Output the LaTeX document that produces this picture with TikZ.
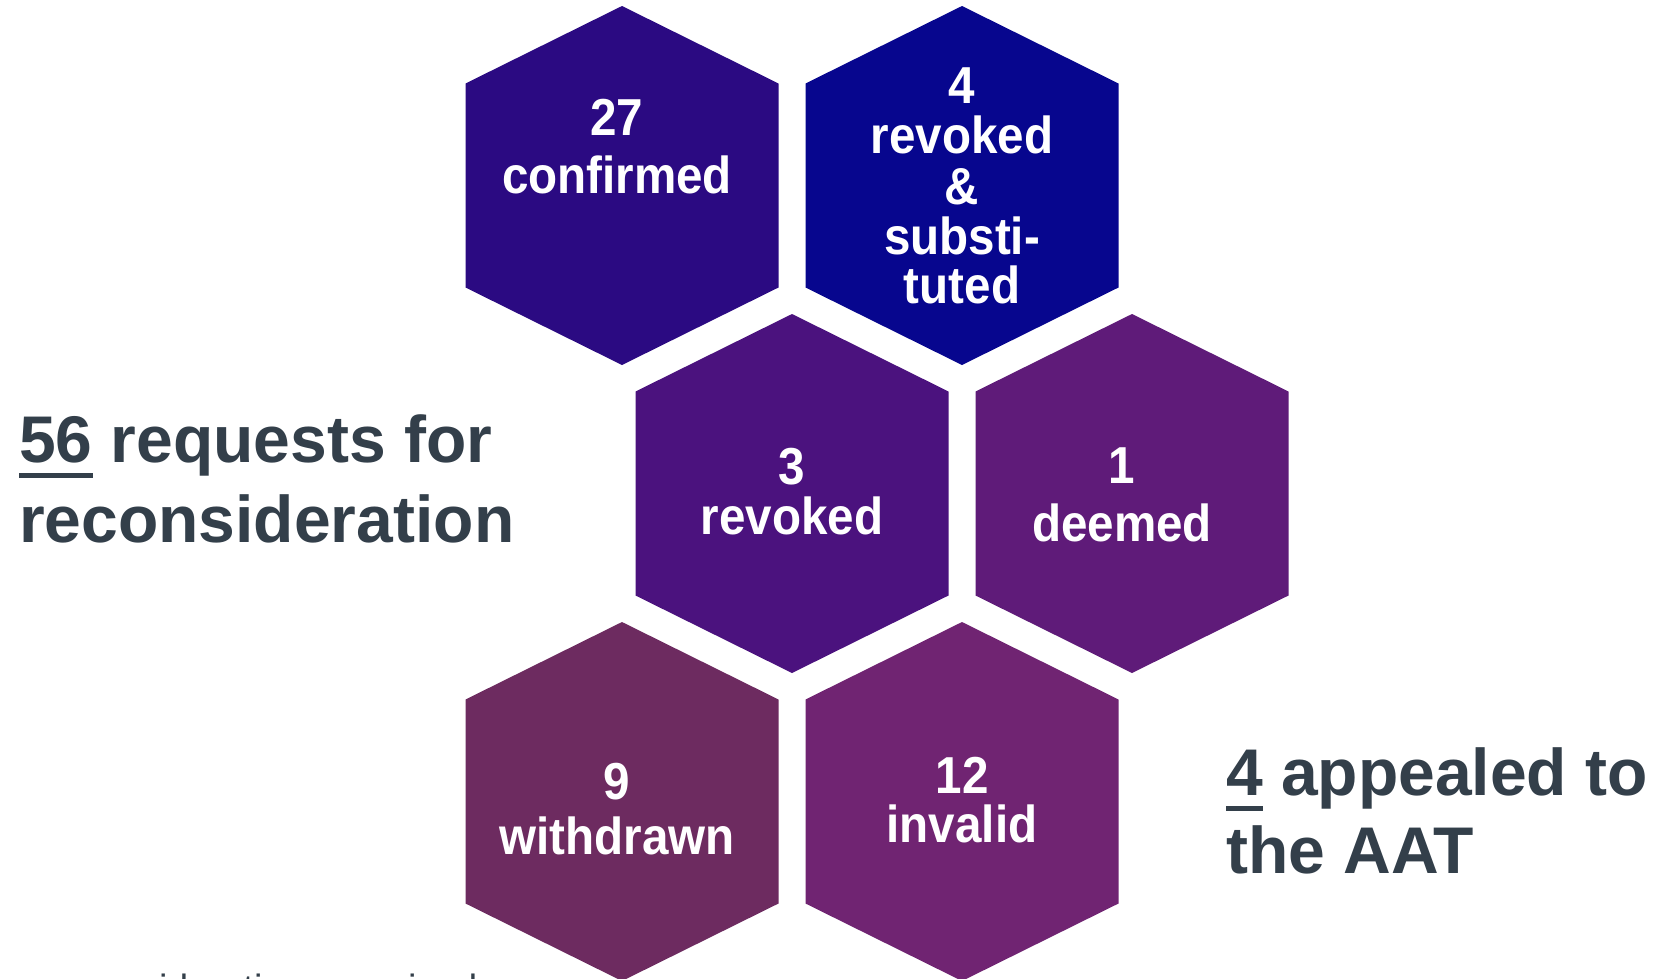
\documentclass[tikz,border=0pt]{standalone}
\usepackage{fontspec}
\setmainfont{Liberation Sans}
\newfontfamily\hexfont{Liberation Sans}[FakeStretch=0.915]
\definecolor{hexA}{HTML}{2B0A82}
\definecolor{hexB}{HTML}{07068E}
\definecolor{hexC}{HTML}{4B127E}
\definecolor{hexD}{HTML}{5F1B79}
\definecolor{hexE}{HTML}{6D2B60}
\definecolor{hexF}{HTML}{702472}
\definecolor{darktxt}{HTML}{333F4A}
\newcommand\thickul[1]{\setbox0\hbox{#1}\rlap{\rule[-16pt]{\wd0}{5pt}}\box0\relax}
\begin{document}
\begin{tikzpicture}[x=1pt,y=-1pt,
  hexlabel/.style={text=white,font=\hexfont\bfseries\fontsize{52}{52}\selectfont,anchor=base,inner sep=0pt},
  bigtext/.style={text=darktxt,font=\bfseries\fontsize{66}{79}\selectfont,anchor=base west,inner sep=0pt},
  foottext/.style={text=darktxt,font=\fontsize{38}{44}\selectfont,anchor=base west,inner sep=0pt},
  hexagon/.pic={\fill (0,-179.5) -- (156.5,-102) -- (156.5,102) -- (0,179.5) -- (-156.5,102) -- (-156.5,-102) -- cycle;}
]
\useasboundingbox (0,0) rectangle (1658,978);
\clip (0,0) rectangle (1658,978);
\fill[white] (0,0) rectangle (1658,978);
% hexagons
\pic[fill=hexA] at (622,185.5) {hexagon};
\pic[fill=hexB] at (962,185.5) {hexagon};
\pic[fill=hexC] at (792,493.5) {hexagon};
\pic[fill=hexD] at (1132,493.5) {hexagon};
\pic[fill=hexE] at (622,801.5) {hexagon};
\pic[fill=hexF] at (962,801.5) {hexagon};
% hexagon labels
\node[hexlabel] (a1) at (617,135) {27};
\node[hexlabel] (a2) at (617,193) {confirmed};
\node[hexlabel] (b1) at (962,103.5) {4};
\node[hexlabel] (b2) at (962,153) {revoked};
\node[hexlabel] (b3) at (962,204) {\&};
\node[hexlabel] (b4) at (962,254) {substi-};
\node[hexlabel] (b5) at (962,303.5) {tuted};
\node[hexlabel] (c1) at (792,484) {3};
\node[hexlabel] (c2) at (792,534) {revoked};
\node[hexlabel] (d1) at (1122,483) {1};
\node[hexlabel] (d2) at (1122,541) {deemed};
\node[hexlabel] (e1) at (617,799) {9};
\node[hexlabel] (e2) at (617,854) {withdrawn};
\node[hexlabel] (f1) at (962,793) {12};
\node[hexlabel] (f2) at (962,842) {invalid};
% side texts
\node[bigtext] (l1) at (19,462) {\thickul{56} requests for};
\node[bigtext] (l2) at (19,542) {reconsideration};
\node[bigtext] (r1) at (1226,795) {\thickul{4} appealed to};
\node[bigtext] (r2) at (1226,873) {the AAT};
\node[foottext] (ft) at (45,1001) {reconsiderations received};
\end{tikzpicture}
\end{document}
